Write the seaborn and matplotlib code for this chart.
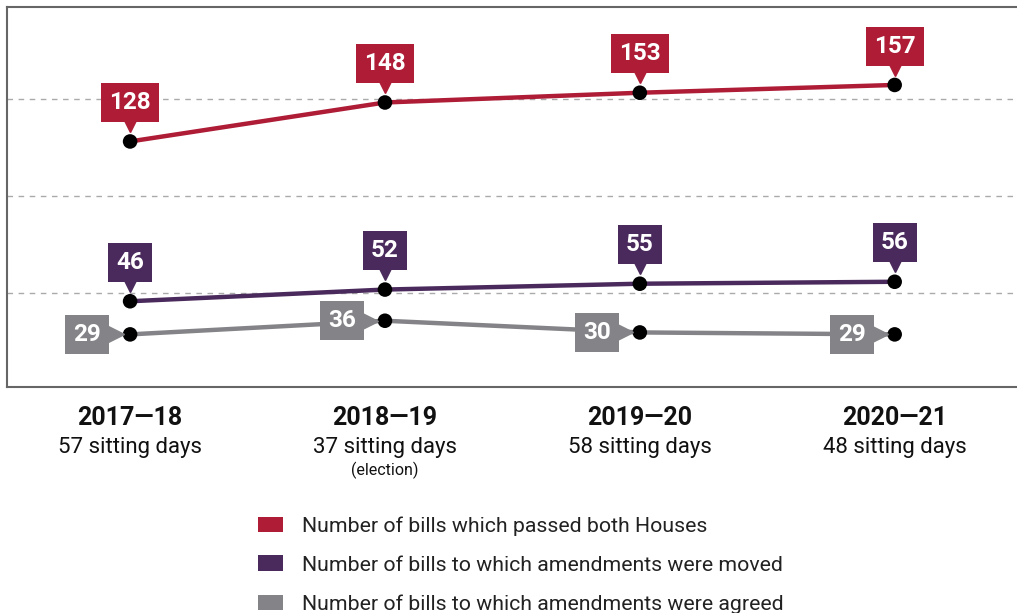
# -*- coding: utf-8 -*-
import numpy as np
import pandas as pd
import matplotlib
matplotlib.use("Agg")
import matplotlib.pyplot as plt
import matplotlib.transforms as mtransforms
from matplotlib.patches import Patch
import seaborn as sns

# Datos
anios = ["2017\u201418", "2018\u201419", "2019\u201420", "2020\u201421"]
dias = ["57 sitting days", "37 sitting days", "58 sitting days", "48 sitting days"]
notas = ["", "(election)", "", ""]
aprobados = [128, 148, 153, 157]
enmiendas_movidas = [46, 52, 55, 56]
enmiendas_aceptadas = [29, 36, 30, 29]

series = [
    "Number of bills which passed both Houses",
    "Number of bills to which amendments were moved",
    "Number of bills to which amendments were agreed",
]
colores = ["#AE1C36", "#4A2A5C", "#848488"]

df = pd.DataFrame({
    "x": list(range(4)) * 3,
    "valor": aprobados + enmiendas_movidas + enmiendas_aceptadas,
    "serie": [series[0]] * 4 + [series[1]] * 4 + [series[2]] * 4,
})

sns.set_style("white")
plt.rcParams["font.family"] = ["Roboto", "DejaVu Sans"]

fig = plt.figure(figsize=(10.17, 6.13), dpi=100)
ax = fig.add_axes([7 / 1017, 1 - 387 / 613, 1.01 - 7 / 1017, 380 / 613])

sns.lineplot(data=df, x="x", y="valor", hue="serie", palette=colores,
             linewidth=3.2, legend=False, ax=ax, zorder=3)
sns.scatterplot(data=df, x="x", y="valor", color="black", s=110,
                edgecolor="none", legend=False, ax=ax, zorder=5)

ax.set_xlim(-0.483, 3.48 + 0.01 * 1017 / 255)
ax.set_ylim(2, 197)

# Rejilla y ejes
ax.set_yticks([50, 100, 150])
ax.set_yticklabels([])
ax.yaxis.grid(True, linestyle=(0, (4, 4)), color="#AAAAAA", linewidth=1)
ax.tick_params(axis="y", length=0)
ax.set_xticks([0.5, 1.5, 2.5])
ax.set_xticklabels([])
ax.tick_params(axis="x", direction="in", length=7, width=1.5, color="#555555")
ax.set_xlabel("")
ax.set_ylabel("")
for lado in ["top", "left", "bottom"]:
    ax.spines[lado].set_color("#666666")
    ax.spines[lado].set_linewidth(1.5)
ax.spines["right"].set_visible(False)

# Etiquetas de valores
for idx, valores in enumerate([aprobados, enmiendas_movidas, enmiendas_aceptadas]):
    c = colores[idx]
    for i, v in enumerate(valores):
        if idx < 2:
            ax.annotate(str(v), (i, v), xytext=(0, 28), textcoords="offset points",
                        ha="center", va="center", color="white", fontsize=17.5,
                        fontweight="bold", zorder=6,
                        bbox=dict(boxstyle="square,pad=0.33", fc=c, ec="none"))
            tr = mtransforms.offset_copy(ax.transData, fig=fig, x=0, y=12.5, units="points")
            ax.plot([i], [v], marker="v", markersize=11, color=c, transform=tr,
                    clip_on=False, zorder=6)
        else:
            ax.annotate(str(v), (i, v), xytext=(-31, 0), textcoords="offset points",
                        ha="center", va="center", color="white", fontsize=17.5,
                        fontweight="bold", zorder=6,
                        bbox=dict(boxstyle="square,pad=0.33", fc=c, ec="none"))
            tr = mtransforms.offset_copy(ax.transData, fig=fig, x=-10.5, y=0, units="points")
            ax.plot([i], [v], marker=">", markersize=11, color=c, transform=tr,
                    clip_on=False, zorder=6)

# Etiquetas de categorías
trans = mtransforms.blended_transform_factory(ax.transData, fig.transFigure)
for i in range(4):
    ax.text(i, 1 - 418 / 613, anios[i], transform=trans, ha="center", va="center",
            fontsize=18, fontweight="bold", color="#111111")
    ax.text(i, 1 - 448 / 613, dias[i], transform=trans, ha="center", va="center",
            fontsize=16, color="#111111")
    if notas[i]:
        ax.text(i, 1 - 470 / 613, notas[i], transform=trans, ha="center", va="center",
                fontsize=11.5, color="#111111")

# Leyenda
handles = [Patch(facecolor=c, edgecolor="none") for c in colores]
fig.legend(handles, series, loc="upper left", bbox_to_anchor=(252 / 1017, 1 - 510 / 613),
           frameon=False, fontsize=15.3, handlelength=1.15, handleheight=0.75,
           handletextpad=0.9, labelspacing=0.92, borderaxespad=0, borderpad=0.3,
           labelcolor="#222222")

fig.savefig("out.png", dpi=100)
